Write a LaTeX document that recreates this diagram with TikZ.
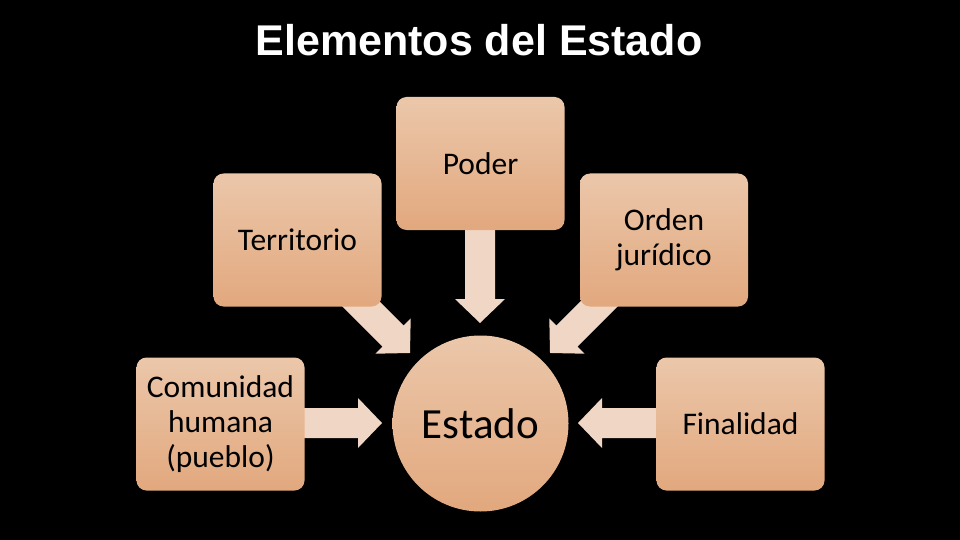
\documentclass[tikz,border=0pt]{standalone}
\usepackage{fontspec}
\setmainfont{Carlito}
\newfontfamily\titlefont{Liberation Sans}
\usetikzlibrary{calc}
\definecolor{boxtop}{RGB}{235,199,170}
\definecolor{boxbot}{RGB}{226,168,126}
\definecolor{arrtop}{RGB}{245,229,218}
\definecolor{arrbot}{RGB}{240,214,196}
\tikzset{
  elem/.style={rounded corners=10pt, top color=boxtop, bottom color=boxbot,
    minimum width=168pt, minimum height=133pt, inner sep=2pt, align=center,
    text=black, font=\fontsize{31.5}{35}\selectfont},
  centre/.style={circle, top color=boxtop, bottom color=boxbot, minimum size=176pt,
    inner sep=0pt, text=black, font=\fontsize{43}{50}\selectfont},
  blockarr/.style={fill=arrbot, draw=none}
}
\newcommand\blockarrow[2]{%
  \path[blockarr] let \p1=($(#2)-(#1)$), \n1={atan2(\y1,\x1)}, \n2={veclen(\x1,\y1)} in
    [shift={(#1)}, rotate=\n1]
    (0pt,-15pt) -- (\n2-24pt,-15pt) -- (\n2-24pt,-25pt) -- (\n2,0pt)
    -- (\n2-24pt,25pt) -- (\n2-24pt,15pt) -- (0pt,15pt) -- cycle;}
\begin{document}
\begin{tikzpicture}[x=1pt,y=-1pt]
\fill[black] (0,0) rectangle (960,540);
\useasboundingbox (0,0) rectangle (960,540);
\node[text=white, font=\titlefont\bfseries\fontsize{43}{50}\selectfont, anchor=base] (title) at (479,56) {Elementos del Estado};
% arrow end points
\coordinate (cs) at (300,423);  \coordinate (ct) at (382,423);
\coordinate (fs) at (660,423);  \coordinate (ft) at (578,423);
\coordinate (ps) at (480,226);  \coordinate (pt) at (480,323);
\coordinate (ts) at (350,293);  \coordinate (tt) at (410,353);
\coordinate (os) at (610,293);  \coordinate (ot) at (550,353);
\blockarrow{cs}{ct}
\blockarrow{fs}{ft}
\blockarrow{ps}{pt}
\blockarrow{ts}{tt}
\blockarrow{os}{ot}
% nodes
\node[elem] (poder) at (480.5,163.5) {Poder};
\node[elem] (terr) at (297.5,240) {Territorio};
\node[elem] (orden) at (664,240) {Orden\\jurídico};
\node[elem] (com) at (220.5,424) {Comunidad\\humana\\(pueblo)};
\node[elem] (fin) at (740.5,424) {Finalidad};
\node[centre] (estado) at (480.5,423.5) {Estado};
\end{tikzpicture}
\end{document}
